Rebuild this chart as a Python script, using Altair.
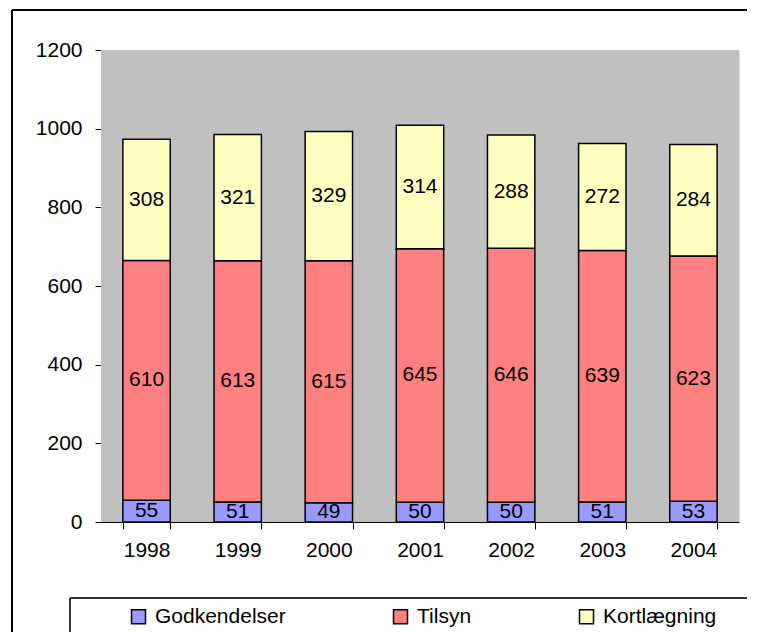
import altair as alt
import pandas as pd

years = ["1998", "1999", "2000", "2001", "2002", "2003", "2004"]
series = ["Godkendelser", "Tilsyn", "Kortlægning"]
godkendelser = [55, 51, 49, 50, 50, 51, 53]
tilsyn = [610, 613, 615, 645, 646, 639, 623]
kortlaegning = [308, 321, 329, 314, 288, 272, 284]
colors = ["#9999FF", "#FF8080", "#FFFFC0"]
y_ticks = [0, 200, 400, 600, 800, 1000, 1200]

rows = []
for i, y in enumerate(years):
    for k, (name, vals) in enumerate(zip(series, [godkendelser, tilsyn, kortlaegning])):
        rows.append({"year": y, "series": name, "value": vals[i], "order": k})
df = pd.DataFrame(rows)

FONT = "Liberation Sans"
W, H = 638, 472

base = alt.Chart(df).transform_stack(
    stack="value", groupby=["year"], sort=[alt.SortField("order")], as_=["v0", "v1"]
).transform_calculate(mid="(datum.v0 + datum.v1) / 2")

xscale = alt.Scale(paddingInner=0.48, paddingOuter=0.24)

xenc = alt.X("year:N", title=None, scale=xscale,
             axis=alt.Axis(labelAngle=0, tickBand="extent", labelFontSize=21,
                           labelColor="black", labelPadding=10, tickSize=7,
                           tickColor="black", domainColor="black", labelFont=FONT))

bars = base.mark_bar(stroke="black", strokeWidth=1.5).encode(
    x=xenc,
    y=alt.Y("v0:Q", title=None,
            scale=alt.Scale(domain=[0, 1200], nice=False),
            axis=alt.Axis(values=y_ticks, format="d", labelFontSize=21, labelColor="black",
                          tickSize=6, labelPadding=13, tickColor="black",
                          domainColor="black", grid=False, labelFont=FONT)),
    y2="v1:Q",
    color=alt.Color("series:N", sort=series,
                    scale=alt.Scale(domain=series, range=colors),
                    legend=alt.Legend(title=None, orient="none", direction="horizontal",
                                      legendX=27, legendY=556, symbolType="square",
                                      symbolSize=196, symbolStrokeColor="black",
                                      symbolStrokeWidth=1.5, symbolOpacity=1,
                                      labelFontSize=21, labelFont=FONT,
                                      labelColor="black", labelOffset=6,
                                      columnPadding=104, padding=0)),
)

labels = base.mark_text(fontSize=21, font=FONT, color="black").encode(
    x=alt.X("year:N", scale=xscale),
    y=alt.Y("mid:Q"),
    text="value:Q",
)

bg = alt.Chart(df).mark_rect(fill="#C0C0C0", stroke=None).encode(
    x=alt.value(0), x2=alt.value(W), y=alt.value(0), y2=alt.value(H)
)
# outer frame (top and left edges visible in the picture)
frame_top = alt.Chart(df).mark_rule(color="black", strokeWidth=1, clip=False).encode(
    x=alt.value(-89), x2=alt.value(700), y=alt.value(-40)
)
frame_left = alt.Chart(df).mark_rule(color="black", strokeWidth=1, clip=False).encode(
    x=alt.value(-89), y=alt.value(-40), y2=alt.value(640)
)
# legend box (top and left edges)
leg_top = alt.Chart(df).mark_rule(color="#333333", strokeWidth=1, clip=False).encode(
    x=alt.value(-31), x2=alt.value(700), y=alt.value(548)
)
leg_left = alt.Chart(df).mark_rule(color="#333333", strokeWidth=1, clip=False).encode(
    x=alt.value(-31), y=alt.value(548), y2=alt.value(640)
)

chart = alt.layer(frame_top, frame_left, leg_top, leg_left, bg, bars, labels).properties(
    width=W, height=H,
    padding={"left": 93, "top": 42, "right": 8, "bottom": 110},
    autosize="none",
).configure_view(stroke=None).configure(font=FONT)

chart.save("out.html", embed_options={"renderer": "svg", "actions": False})
